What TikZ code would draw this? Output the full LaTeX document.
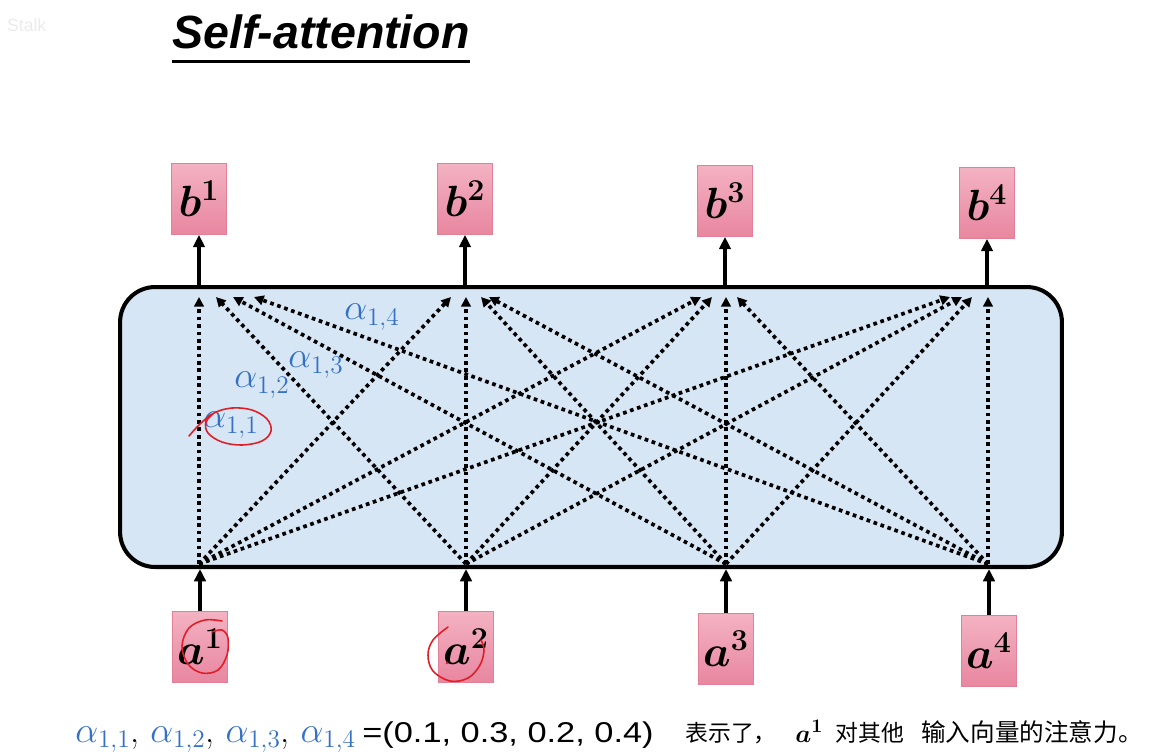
\documentclass[tikz,border=0pt]{standalone}
\usepackage{fontspec}
\usepackage{amsmath}
\usetikzlibrary{arrows.meta,calc,positioning}
\newfontfamily\titlefont{Liberation Sans}
\newfontfamily\numfont[FakeStretch=1.2]{Liberation Sans}
\newfontfamily\zhfont{Noto Sans CJK SC}
\definecolor{alphablue}{RGB}{52,112,196}
\definecolor{boxtop}{RGB}{243,178,194}
\definecolor{boxbot}{RGB}{232,134,160}
\definecolor{boxline}{RGB}{226,128,152}
\definecolor{panelblue}{RGB}{214,230,244}
\definecolor{inkred}{RGB}{224,30,40}

\begin{document}
\begin{tikzpicture}[x=0.02cm, y=-0.02cm]
    \tikzset{
        vec/.style={rectangle, minimum width=1.1cm, minimum height=1.42cm,
        inner sep=0pt, draw=boxline, line width=0.4pt,
        top color=boxtop, bottom color=boxbot,
        font=\fontsize{24}{24}\selectfont\boldmath},
        arrow/.style={line width=2.3pt,-{Triangle[length=7pt,width=6.5pt]}},
        dotarrow/.style={line width=2.1pt, dash pattern=on 2.1pt off 2.1pt,
        -{Triangle[length=5.5pt,width=5.5pt]}},
        weight/.style={text=alphablue, inner sep=0pt,
        font=\fontsize{20}{20}\selectfont},
        textline/.style={anchor=base west, inner sep=0pt},
        pen/.style={draw=inkred, line width=0.9pt, line cap=round}
    }
    \useasboundingbox (0,0) rectangle (1159,755);

    % title
    \node (mark) [anchor=base west, text=black!8, font=\fontsize{10}{10}\titlefont] at (1,31) {Stalk};
    \node (title) [textline, font=\fontsize{26.5}{27}\titlefont\bfseries\itshape] at (172,48) {Self-attention};
    \draw [line width=1.6pt] ([yshift=-7.8pt]title.base west) -- ([yshift=-7.8pt]title.base east);

    % self-attention layer
    \node (attn) [draw, line width=2.3pt, rounded corners=0.7cm, fill=panelblue,
        minimum width=18.84cm, minimum height=5.6cm] at (591,427) {};

    % outputs and inputs
    \node (b1) [vec] at (199,199) {$b^1$};
    \node (b2) [vec] at (465,199) {$b^2$};
    \node (b3) [vec] at (725,201) {$b^3$};
    \node (b4) [vec] at (987,203) {$b^4$};
    \node (a1) [vec] at (200,647) {$a^1$};
    \node (a2) [vec] at (466,647) {$a^2$};
    \node (a3) [vec] at (726,649) {$a^3$};
    \node (a4) [vec] at (989,651) {$a^4$};

    \foreach \n in {1,...,4} {
        \draw [arrow] (attn.north -| b\n.south) -- (b\n.south);
        \draw [arrow] (a\n.north) -- (attn.south -| a\n.north);
    }

    % attention connections
    \foreach \x [count=\i] in {199,466,726,988} {
        \coordinate (src\i) at (\x,564);
        \coordinate (dst\i) at (\x,297);
    }
    \foreach \i/\j/\d in {1/1/0, 2/1/17, 3/1/34, 4/1/55,
                          1/2/-15, 2/2/0, 3/2/15, 4/2/23,
                          1/3/-25, 2/3/-14, 3/3/0, 4/3/11,
                          1/4/-38, 2/4/-26, 3/4/-16, 4/4/0}
        \draw [dotarrow] (src\i) -- ($(dst\j)+(\d,0)$);

    % weights
    \node (w14) [weight] at (372,317) {$\alpha_{1,4}$};
    \node (w13) [weight] at (316,365) {$\alpha_{1,3}$};
    \node (w12) [weight] at (262,385) {$\alpha_{1,2}$};
    \node (w11) [weight] at (231,425) {$\alpha_{1,1}$};

    % handwritten marks
    \draw [pen] plot [smooth, tension=0.6] coordinates {(189,436) (200,424) (214,413)
        (232,408) (252,410) (267,419) (271,431) (262,441) (242,445) (222,442) (208,433)
        (206,422) (214,413)};
    \draw [pen] plot [smooth, tension=0.6] coordinates {(222,621) (205,620) (189,628)
        (182,646) (188,664) (202,673) (218,670) (227,655) (228,638) (222,630) (212,632)};
    \draw [pen] plot [smooth, tension=0.6] coordinates {(448,627) (433,640) (428,655)
        (433,671) (450,681) (468,678) (480,665) (484,650) (481,640)};
    \fill [inkred] (447,663) circle (0.8pt);

    % caption
    \node (wlist) [textline, font=\fontsize{20.5}{21}\selectfont] at (75,742)
        {\textcolor{alphablue}{$\alpha_{1,1}$}, \textcolor{alphablue}{$\alpha_{1,2}$},
         \textcolor{alphablue}{$\alpha_{1,3}$}, \textcolor{alphablue}{$\alpha_{1,4}$}};
    \node (vals) [textline, font=\fontsize{16.3}{17}\numfont] at (362,742) {=(0.1, 0.3, 0.2, 0.4)};
    \node (zhA) [textline, font=\fontsize{13}{13}\zhfont] at (685,741) {表示了，};
    \node (avec) [textline, font=\fontsize{15}{15}\selectfont\boldmath] at (795,742) {$a^1$};
    \node (zhB) [textline, font=\fontsize{13}{13}\zhfont] at (835,741) {对其他};
    \node (zhC) [textline, font=\fontsize{14}{14}\zhfont] at (921,741) {输入向量的注意力。};
\end{tikzpicture}
\end{document}
